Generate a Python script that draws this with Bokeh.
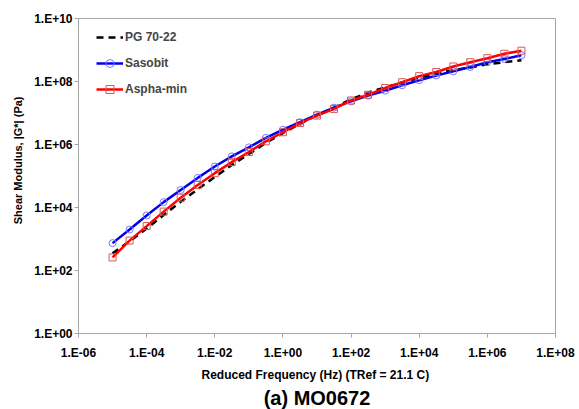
from bokeh.plotting import figure
from bokeh.models import (FixedTicker, Legend, LegendItem, Range1d, Title,
                          CustomJSTickFormatter)
from bokeh.embed import file_html
from bokeh.resources import INLINE

# ---- data ----
frequency = [1e-5, 3.16e-5, 1e-4, 3.16e-4, 1e-3, 3.16e-3, 1e-2, 3.16e-2, 0.1, 0.316,
             1, 3.16, 10, 31.6, 100, 316, 1e3, 3.16e3, 1e4, 3.16e4, 1e5, 3.16e5,
             1e6, 3.16e6, 1e7]
pg7022 = [3.5e2, 8.5e2, 2.14e3, 5.8e3, 1.51e4, 3.8e4, 9.3e4, 2.24e5, 5.0e5, 1.12e6,
          2.3e6, 4.6e6, 8.5e6, 1.48e7, 2.75e7, 4.4e7, 6.5e7, 9.3e7, 1.32e8, 1.78e8,
          2.3e8, 2.8e8, 3.5e8, 4.1e8, 4.7e8]
sasobit = [7.4e2, 2.0e3, 5.6e3, 1.48e4, 3.6e4, 8.7e4, 2.0e5, 4.2e5, 8.1e5, 1.62e6,
           2.95e6, 5.1e6, 8.9e6, 1.48e7, 2.34e7, 3.55e7, 5.1e7, 7.6e7, 1.10e8, 1.55e8,
           2.1e8, 2.9e8, 4.1e8, 5.2e8, 6.8e8]
asphamin = [2.6e2, 8.9e2, 2.57e3, 7.4e3, 2.04e4, 5.2e4, 1.23e5, 2.75e5, 5.75e5, 1.26e6,
            2.45e6, 4.8e6, 8.3e6, 1.35e7, 2.5e7, 3.8e7, 6.2e7, 9.5e7, 1.48e8, 2.0e8,
            3.0e8, 4.1e8, 5.5e8, 7.6e8, 9.5e8]
series_names = ["PG 70-22", "Sasobit", "Aspha-min"]
x_ticks = [1e-6, 1e-4, 1e-2, 1e0, 1e2, 1e4, 1e6, 1e8]
y_ticks = [1e0, 1e2, 1e4, 1e6, 1e8, 1e10]
x_label = "Reduced Frequency (Hz) (TRef = 21.1  C)"
y_label = "Shear Modulus, |G*| (Pa)"
caption = "(a) MO0672"

FONT = "Liberation Sans"
GRAY = "#a6a6a6"

W, H = 579, 409
FL, FR, FT, FB = 78, 555, 18, 333   # frame edges in canvas pixels
p = figure(width=W, height=H, x_axis_type="log", y_axis_type="log",
           x_range=Range1d(1e-6, 1e8), y_range=Range1d(1e0, 1e10),
           output_backend="svg", toolbar_location=None,
           min_border_left=FL, min_border_right=W - FR,
           min_border_top=FT, min_border_bottom=H - FB)
p.background_fill_color = "white"
p.border_fill_color = "white"
p.outline_line_color = GRAY
p.outline_line_width = 1
p.xgrid.visible = False
p.ygrid.visible = False

fmt = CustomJSTickFormatter(code="""
const e = Math.round(Math.log10(tick));
return "1.E" + (e < 0 ? "-" : "+") + String(Math.abs(e)).padStart(2, "0");
""")
for ax, ticks in ((p.xaxis[0], x_ticks), (p.yaxis[0], y_ticks)):
    ax.ticker = FixedTicker(ticks=ticks, minor_ticks=[])
    ax.formatter = fmt
    ax.axis_line_color = GRAY
    ax.major_tick_line_color = GRAY
    ax.major_tick_out = 4
    ax.major_tick_in = 0
    ax.minor_tick_out = 0
    ax.minor_tick_in = 0
    ax.major_label_text_font = FONT
    ax.major_label_text_font_style = "bold"
    ax.major_label_text_font_size = "12px"
    ax.major_label_text_color = "black"
    ax.axis_label_text_font = FONT
    ax.axis_label_text_font_style = "bold"
    ax.axis_label_text_color = "black"
p.yaxis[0].major_label_standoff = 2
p.xaxis[0].major_label_standoff = 8
p.xaxis[0].axis_label = x_label
p.xaxis[0].axis_label_text_font_size = "12px"
p.xaxis[0].axis_label_standoff = 5

# y-axis title, placed a little above the frame centre as in the reference
p.add_layout(Title(text=y_label, align="right", offset=78, text_font=FONT,
                   text_font_style="bold", text_font_size="11px",
                   text_color="black", standoff=15), "left")

p.add_layout(Title(text=caption, align="center", text_font=FONT,
                   text_font_style="bold", text_font_size="20px",
                   text_color="black", standoff=0), "below")

r_pg = p.line(frequency, pg7022, line_color="black", line_width=2.5, line_dash="7 5")
r_sa = p.line(frequency, sasobit, line_color="#0000ee", line_width=2.5)
m_sa = p.scatter(frequency, sasobit, marker="circle", size=7, fill_color=None,
                 line_color="#7777ff", line_width=1)
r_as = p.line(frequency, asphamin, line_color="#ff0000", line_width=2.5)
m_as = p.scatter(frequency, asphamin, marker="square", size=7, fill_color=None,
                 line_color="#dd5555", line_width=1)

legend = Legend(items=[LegendItem(label=series_names[0], renderers=[r_pg]),
                       LegendItem(label=series_names[1], renderers=[r_sa, m_sa]),
                       LegendItem(label=series_names[2], renderers=[r_as, m_as])],
                location=(18, (FB - FT) - 9 - 72), padding=0, margin=0, spacing=6,
                glyph_width=27, glyph_height=20, label_standoff=2,
                label_text_font=FONT, label_text_font_style="bold",
                label_text_font_size="12px", border_line_color=None,
                background_fill_alpha=0)
p.add_layout(legend)

open("out.html", "w").write(file_html(p, INLINE))
